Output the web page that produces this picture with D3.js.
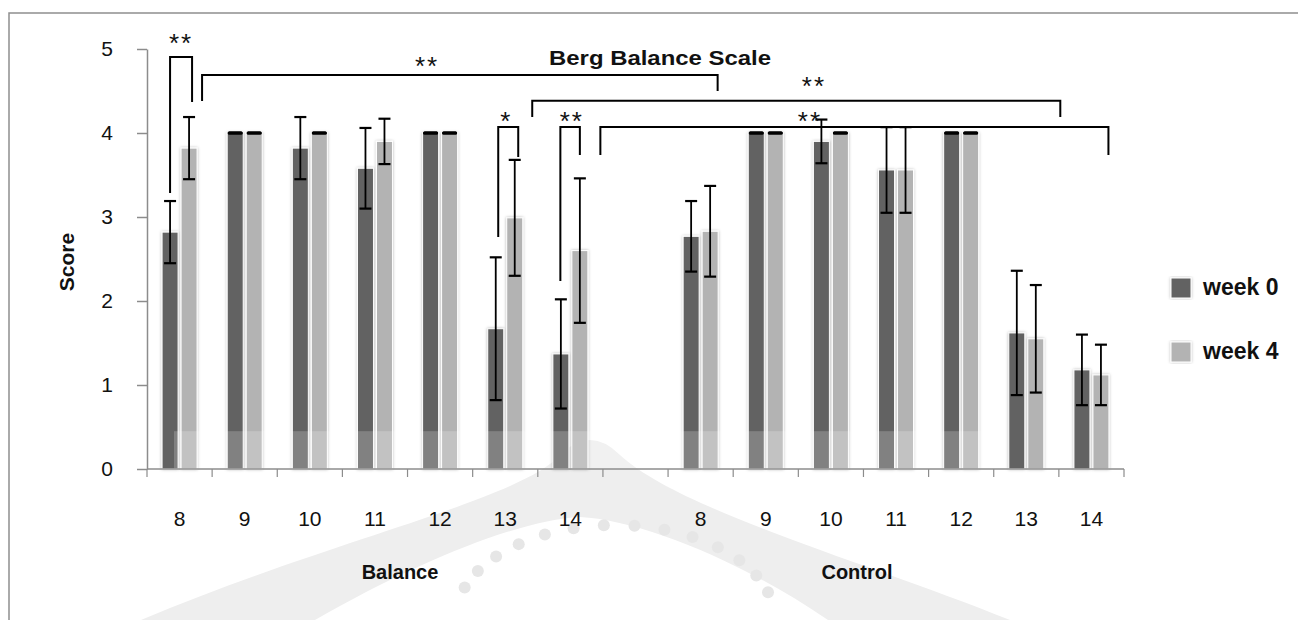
<!DOCTYPE html>
<html><head><meta charset="utf-8">
<script src="https://cdn.jsdelivr.net/npm/d3@7"></script>
<style>body{margin:0;background:#fff}svg{display:block;font-family:"Liberation Sans",Arial,sans-serif}</style>
</head><body><svg id="chart" width="1298" height="620"></svg>
<script>
// ---------- data ----------
const groups = ["Balance", "Control"];
const ages = ["8", "9", "10", "11", "12", "13", "14"];
const seriesNames = ["week 0", "week 4"];
const balanceWeek0 = [2.82, 4.0, 3.82, 3.58, 4.0, 1.67, 1.37];
const balanceWeek4 = [3.82, 4.0, 4.0, 3.90, 4.0, 2.99, 2.60];
const balanceSD0   = [0.37, 0, 0.37, 0.48, 0, 0.85, 0.65];
const balanceSD4   = [0.37, 0, 0, 0.27, 0, 0.69, 0.86];
const controlWeek0 = [2.77, 4.0, 3.90, 3.56, 4.0, 1.62, 1.18];
const controlWeek4 = [2.83, 4.0, 4.0, 3.56, 4.0, 1.55, 1.12];
const controlSD0   = [0.42, 0, 0.26, 0.51, 0, 0.74, 0.42];
const controlSD4   = [0.54, 0, 0, 0.51, 0, 0.64, 0.36];
const yTicks = [0, 1, 2, 3, 4, 5];
const titleText = "Berg Balance Scale";
const yLabel = "Score";
// significance brackets (values in score units, positions by category)
const brackets = [
  {label: "**", top: 4.905, l: ["Balance", "8", -9.5, 3.286], r: ["Balance", "8", 12.5, 4.369], t: ["Balance", "8", 1.5, 5.137]},
  {label: "**", top: 4.69,  l: ["Balance", "8", 22.5, 4.381], r: ["Control", "8", 17, 4.5],     t: ["Balance", "12", -13, 4.869]},
  {label: "*",  top: 4.071, l: ["Balance", "13", -7, 2.762],  r: ["Balance", "13", 13, 3.714],  t: ["Balance", "13", 1, 4.214]},
  {label: "**", top: 4.385, l: ["Balance", "13", 27, 4.19],   r: ["Control", "13", 34, 4.19],   t: ["Control", "10", -17, 4.631]},
  {label: "**", top: 4.071, l: ["Balance", "14", -10, 2.238], r: ["Balance", "14", 9.5, 3.738], t: ["Balance", "14", 1.5, 4.214]},
  {label: "**", top: 4.071, l: ["Balance", "14", 30, 3.738],  r: ["Control", "14", 17, 3.738],  t: ["Control", "10", -21, 4.214]}
];

// ---------- build rows ----------
const rows = [];
ages.forEach((a, i) => {
  rows.push({g: "Balance", a, key: "Balance-" + a, vals: [balanceWeek0[i], balanceWeek4[i]], sds: [balanceSD0[i], balanceSD4[i]]});
});
ages.forEach((a, i) => {
  rows.push({g: "Control", a, key: "Control-" + a, vals: [controlWeek0[i], controlWeek4[i]], sds: [controlSD0[i], controlSD4[i]]});
});
const domainKeys = ages.map(a => "Balance-" + a).concat(["gap"], ages.map(a => "Control-" + a));

const svg = d3.select("#chart");
const colors = ["#626262", "#b3b3b3"];

const x = d3.scaleBand().domain(domainKeys).range([147, 1124]).padding(0);
const y = d3.scaleLinear().domain([0, 5]).range([469, 49]);
const bw = x.bandwidth();
const cx = k => x(k) + bw / 2;

// faint background watermark (decorative seal)
const wm = svg.append("g");
wm.append("path")
  .attr("d", "M141,620 C330,540 520,500 560,455 Q590,425 620,455 C680,510 860,560 1010,620 L828,620 C740,560 640,520 580,517 C520,520 420,560 315,620 Z")
  .attr("fill", "#eeeeee");
const dotAngles = d3.range(200, 345, 11);
wm.selectAll("circle").data(dotAngles).join("circle")
  .attr("cx", a => 615 + 160 * Math.cos(a * Math.PI / 180))
  .attr("cy", a => 620 + 95 * Math.sin(a * Math.PI / 180))
  .attr("r", 6).attr("fill", "#e6e6e6");

// frame
svg.append("path").attr("d", "M9,620 V13 H1298").attr("fill", "none").attr("stroke", "#8f8f8f").attr("stroke-width", 1.5);

const defs = svg.append("defs");
const f = defs.append("filter").attr("id", "sh").attr("x", "-40%").attr("y", "-10%").attr("width", "180%").attr("height", "120%");
f.append("feDropShadow").attr("dx", 0).attr("dy", 0).attr("stdDeviation", 1.4).attr("flood-color", "#000").attr("flood-opacity", 0.3);

// bars
const barW = 16, gap = 3;
const barX = (k, s) => cx(k) + (s === 0 ? -gap / 2 - barW : gap / 2);
const gBars = svg.append("g");
rows.forEach(r => {
  r.vals.forEach((v, s) => {
    gBars.append("rect")
      .attr("x", barX(r.key, s)).attr("y", y(v))
      .attr("width", barW).attr("height", y(0) - y(v))
      .attr("fill", colors[s]).attr("stroke", "#fff").attr("stroke-width", 1)
      .attr("filter", "url(#sh)");
  });
});

// faint watermark band over bar bases
svg.append("rect").attr("x", 174).attr("y", y(0.45)).attr("width", 985 - 174).attr("height", y(0) - y(0.45))
  .attr("fill", "#fff").attr("opacity", 0.2);

// error bars
const gErr = svg.append("g").attr("stroke", "#000");
rows.forEach(r => {
  r.vals.forEach((v, s) => {
    const sd = r.sds[s];
    const xc = barX(r.key, s) + barW / 2;
    if (sd > 0) {
      gErr.append("line").attr("x1", xc).attr("x2", xc).attr("y1", y(v + sd)).attr("y2", y(v - sd)).attr("stroke-width", 1.8);
    }
    [v + sd, v - sd].forEach(e => {
      gErr.append("line").attr("x1", xc - 6).attr("x2", xc + 6).attr("y1", y(e)).attr("y2", y(e))
        .attr("stroke-width", sd > 0 ? 2.2 : 3).attr("stroke-linecap", sd > 0 ? "butt" : "round");
    });
  });
});

// y axis
const yAxis = svg.append("g").attr("transform", "translate(147,0)")
  .call(d3.axisLeft(y).tickValues(yTicks).tickSize(10).tickSizeOuter(0).tickPadding(24).tickFormat(d3.format("d")));
yAxis.select(".domain").attr("stroke", "#8c8c8c").attr("stroke-width", 1.5);
yAxis.selectAll(".tick line").attr("stroke", "#8c8c8c").attr("stroke-width", 1.5);
yAxis.selectAll(".tick text").attr("font-size", 21).attr("fill", "#111").attr("font-family", "Liberation Sans, Arial, sans-serif");

// x axis
const gx = svg.append("g");
gx.append("line").attr("x1", 147).attr("x2", x.range()[1]).attr("y1", y(0)).attr("y2", y(0)).attr("stroke", "#8c8c8c").attr("stroke-width", 1.5);
const bounds = domainKeys.map(k => x(k)).concat([x.range()[1]]);
gx.selectAll("line.b").data(bounds).join("line").attr("class", "b")
  .attr("x1", d => d).attr("x2", d => d).attr("y1", y(0)).attr("y2", y(0) + 8)
  .attr("stroke", "#8c8c8c").attr("stroke-width", 1.2);
gx.selectAll("text.xl").data(rows).join("text").attr("class", "xl")
  .attr("x", d => cx(d.key)).attr("y", 526).attr("text-anchor", "middle")
  .attr("font-size", 21).attr("fill", "#111").text(d => d.a);

// group labels
const groupPos = {Balance: 400, Control: 857};
svg.selectAll("text.grp").data(groups).join("text").attr("class", "grp")
  .attr("x", d => groupPos[d]).attr("y", 579).attr("text-anchor", "middle")
  .attr("font-size", 20).attr("font-weight", "bold").attr("fill", "#111").text(d => d);

// y label
svg.append("text").attr("transform", "translate(74,262) rotate(-90)").attr("text-anchor", "middle")
  .attr("font-size", 21).attr("font-weight", "bold").attr("fill", "#111").text(yLabel);

// title
svg.append("text").attr("x", 549).attr("y", 65).attr("text-anchor", "start")
  .attr("textLength", 222).attr("lengthAdjust", "spacingAndGlyphs")
  .attr("font-size", 21).attr("font-weight", "bold").attr("fill", "#111").text(titleText);

// brackets
const bx = p => cx(p[0] + "-" + p[1]) + p[2];
const gBr = svg.append("g");
brackets.forEach(b => {
  gBr.append("path")
    .attr("d", `M${bx(b.l)},${y(b.l[3])} V${y(b.top)} H${bx(b.r)} V${y(b.r[3])}`)
    .attr("fill", "none").attr("stroke", "#000").attr("stroke-width", 2);
  gBr.append("text").attr("x", bx(b.t)).attr("y", y(b.t[3]) + 0.57 * 26)
    .attr("text-anchor", "middle").attr("font-size", 26).attr("letter-spacing", 2).attr("fill", "#111").text(b.label);
});

// legend
const leg = svg.append("g");
seriesNames.forEach((n, i) => {
  const yy = 278 + i * 64;
  leg.append("rect").attr("x", 1171).attr("y", yy).attr("width", 20).attr("height", 20).attr("fill", colors[i])
    .attr("stroke", "#fff").attr("filter", "url(#sh)");
  leg.append("text").attr("x", 1203).attr("y", yy + 17).attr("font-size", 23).attr("font-weight", "bold").attr("fill", "#111").text(n);
});
</script>
</body></html>
